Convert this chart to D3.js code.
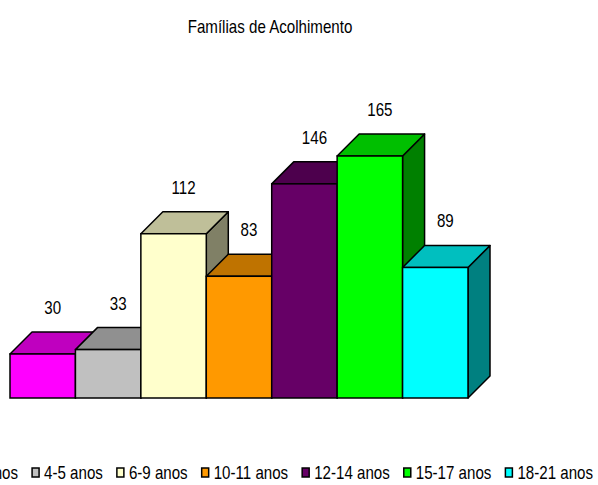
<!DOCTYPE html>
<html>
<head>
<meta charset="utf-8">
<script src="https://d3js.org/d3.v7.min.js"></script>
<style>
  body { margin: 0; background: #fff; }
  text { font-family: "Liberation Sans", Arial, sans-serif; }
</style>
</head>
<body>
<svg id="chart" width="598" height="485"></svg>
<script>
// data
var categories = ["0-3 anos", "4-5 anos", "6-9 anos", "10-11 anos", "12-14 anos", "15-17 anos", "18-21 anos"];
var values = [30, 33, 112, 83, 146, 165, 89];
var colors = ["#FF00FF", "#C0C0C0", "#FFFFCC", "#FF9900", "#660066", "#00FF00", "#00FFFF"];
var title = "Famílias de Acolhimento";

var svg = d3.select("#chart");

// depth of the 3d effect
var dx = 22, dy = -22;
// no narrow font installed, squeeze Liberation Sans instead
var sx = 0.84;

var x = d3.scaleBand()
  .domain(categories)
  .range([10, 468])
  .padding(0);

var y = d3.scaleLinear()
  .domain([0, 165])
  .range([398, 156]);

function shade(c, k) {
  var r = d3.rgb(c);
  return d3.rgb(r.r * k, r.g * k, r.b * k).formatHex();
}

// title
svg.append("text")
  .attr("transform", "translate(270,33) scale(" + sx + ",1)")
  .attr("text-anchor", "middle")
  .style("font-size", "18px")
  .text(title);

// bars, left to right so the next front face covers the previous side
var bars = svg.selectAll("g.bar")
  .data(categories)
  .enter()
  .append("g")
  .attr("class", "bar");

bars.each(function(d, i) {
  var g = d3.select(this);
  var x0 = x(d), x1 = x(d) + x.bandwidth();
  var y0 = y(0), y1 = y(values[i]);

  // side
  g.append("path")
    .attr("d", "M" + x1 + "," + y0 + " L" + (x1 + dx) + "," + (y0 + dy) +
      " L" + (x1 + dx) + "," + (y1 + dy) + " L" + x1 + "," + y1 + " Z")
    .attr("fill", shade(colors[i], 0.5))
    .attr("stroke", "#000")
    .attr("stroke-width", 1.5)
    .attr("stroke-linejoin", "round");

  // top
  g.append("path")
    .attr("d", "M" + x0 + "," + y1 + " L" + (x0 + dx) + "," + (y1 + dy) +
      " L" + (x1 + dx) + "," + (y1 + dy) + " L" + x1 + "," + y1 + " Z")
    .attr("fill", shade(colors[i], 0.75))
    .attr("stroke", "#000")
    .attr("stroke-width", 1.5)
    .attr("stroke-linejoin", "round");

  // front
  g.append("rect")
    .attr("x", x0)
    .attr("y", y1)
    .attr("width", x.bandwidth())
    .attr("height", y0 - y1)
    .attr("fill", colors[i])
    .attr("stroke", "#000")
    .attr("stroke-width", 1.5);
});

// value labels
svg.selectAll("text.val")
  .data(values)
  .enter()
  .append("text")
  .attr("class", "val")
  .attr("transform", function(d, i) {
    var cx = x(categories[i]) + x.bandwidth() / 2 + 10;
    return "translate(" + cx + "," + (y(d) - 40) + ") scale(" + sx + ",1)";
  })
  .attr("text-anchor", "middle")
  .style("font-size", "18px")
  .text(function(d) { return d; });

// legend, laid out from measured widths and right aligned
var legend = svg.append("g");
var items = legend.selectAll("g")
  .data(categories)
  .enter()
  .append("g");

items.append("rect")
  .attr("width", 7)
  .attr("height", 9)
  .attr("y", -11)
  .attr("fill", function(d, i) { return colors[i]; })
  .attr("stroke", "#000")
  .attr("stroke-width", 1.5);

items.append("text")
  .attr("transform", "translate(12,0) scale(" + sx + ",1)")
  .style("font-size", "18px")
  .text(function(d) { return d; });

var gap = 14;
var pos = 0;
items.each(function() {
  var w = d3.select(this).select("text").node().getComputedTextLength() * sx;
  d3.select(this).attr("transform", "translate(" + pos + ",0)");
  pos += 12 + w + gap;
});
var total = pos - gap;
legend.attr("transform", "translate(" + (593 - total) + ",479)");
</script>
</body>
</html>
